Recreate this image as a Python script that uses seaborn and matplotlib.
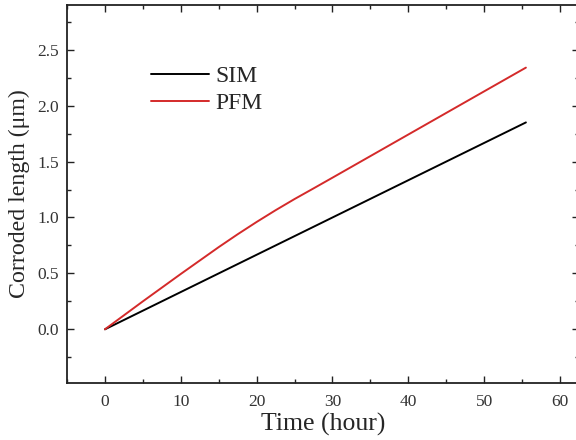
import numpy as np
import pandas as pd
import matplotlib
matplotlib.use("Agg")
import matplotlib.pyplot as plt
from matplotlib.ticker import MultipleLocator
import seaborn as sns

# Corroded length over time: simple model vs phase-field model
sim_time = [0.0, 55.5]
sim_length = [0.0, 1.85]

pfm_time = [0.0, 5.0, 10.0, 15.0, 17.5, 20.0, 22.5, 25.0, 27.5, 30.0, 35.0, 40.0, 45.0, 50.0, 55.5]
pfm_length = [0.0, 0.25, 0.495, 0.735, 0.85, 0.96, 1.065, 1.165, 1.26, 1.356, 1.549, 1.742, 1.935, 2.128, 2.34]

series_names = ["SIM", "PFM"]
series_colors = ["#000000", "#d42a2a"]

df = pd.concat([
    pd.DataFrame({"time": sim_time, "length": sim_length, "model": "SIM"}),
    pd.DataFrame({"time": pfm_time, "length": pfm_length, "model": "PFM"}),
], ignore_index=True)

sns.set_theme(style="ticks")
plt.rcParams["font.family"] = ["Liberation Serif", "DejaVu Serif"]

fig = plt.figure(figsize=(5.76, 4.4), dpi=100)
ax = fig.add_axes([67 / 576, 1 - 383 / 440, 512 / 576, 378 / 440])

sns.lineplot(data=df, x="time", y="length", hue="model", hue_order=series_names,
             palette=dict(zip(series_names, series_colors)), linewidth=1.4,
             ax=ax, legend=True)

ax.set_xlim(-5, 62.5)
ax.set_ylim(-0.48, 2.9)
ax.xaxis.set_major_locator(MultipleLocator(10))
ax.xaxis.set_minor_locator(MultipleLocator(5))
ax.yaxis.set_major_locator(MultipleLocator(0.5))
ax.yaxis.set_minor_locator(MultipleLocator(0.25))
ax.yaxis.set_major_formatter(plt.FuncFormatter(lambda v, p: f"{v:.1f}"))

ax.tick_params(which="both", direction="in", top=True, right=True, width=1.0,
               colors="#222222", labelsize=12.5, labelcolor="#333333")
ax.tick_params(axis="x", pad=8)
ax.tick_params(axis="y", pad=6)
ax.tick_params(which="major", length=5)
ax.tick_params(which="minor", length=3)
for s in ax.spines.values():
    s.set_linewidth(1.3)
    s.set_color("#222222")

ax.set_xlabel("Time (hour)", fontsize=18.5, labelpad=2)
ax.set_ylabel("Corroded length (μm)", fontsize=17.2, labelpad=5)

ax.legend(title=None, frameon=False, fontsize=17, loc="upper left",
          bbox_to_anchor=(0.145, 0.865), handlelength=2.45, handletextpad=0.3,
          labelspacing=0.25, borderaxespad=0)

fig.savefig("out.png", dpi=100)
